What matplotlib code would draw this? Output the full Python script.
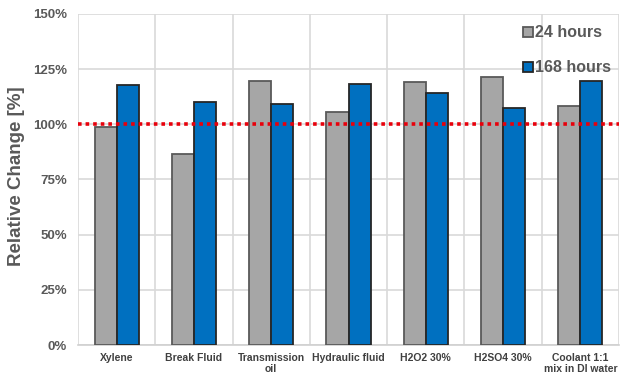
import matplotlib
matplotlib.use("Agg")
import matplotlib.pyplot as plt
from matplotlib.ticker import FixedLocator, FuncFormatter
import numpy as np

plt.rcParams['font.family'] = ['Liberation Sans', 'DejaVu Sans']

categories = ["Xylene", "Break Fluid", "Transmission\noil", "Hydraulic fluid",
              "H2O2 30%", "H2SO4 30%", "Coolant 1:1\nmix in DI water"]
hours_24 = [98.9, 86.6, 119.6, 105.5, 119.3, 121.5, 108.2]
hours_168 = [117.6, 110.1, 109.0, 118.5, 114.1, 107.2, 119.6]
series_labels = ["24 hours", "168 hours"]
y_ticks = [0, 25, 50, 75, 100, 125, 150]
reference_level = 100

fig = plt.figure(figsize=(6.26, 3.78), dpi=100)
ax = fig.add_axes([78 / 626, 1 - 345 / 378, 541 / 626, 331 / 378])

x = np.arange(len(categories))
w = 0.285
ax.bar(x - w / 2, hours_24, width=w, color="#A6A6A6", edgecolor="#595959",
       linewidth=1.3, label=series_labels[0], zorder=3)
ax.bar(x + w / 2, hours_168, width=w, color="#0070C0", edgecolor="#262626",
       linewidth=1.3, label=series_labels[1], zorder=3)

ax.axhline(reference_level, color="#E8000B", linewidth=2.6,
           linestyle=(0, (1, 1.1)), zorder=4)

ax.set_xlim(-0.5, len(categories) - 0.5)
ax.set_ylim(0, 150)
ax.yaxis.set_major_locator(FixedLocator(y_ticks))
ax.yaxis.set_major_formatter(FuncFormatter(lambda v, p: f"{v:.0f}%"))
ax.set_xticks(x)
ax.set_xticklabels(categories, fontsize=7.5, fontweight="bold", color="#404040",
                   linespacing=1.1)
ax.xaxis.set_minor_locator(FixedLocator(np.arange(-0.5, len(categories), 1.0)))

for lbl in ax.get_yticklabels():
    lbl.set_fontsize(9.5)
    lbl.set_fontweight("bold")
    lbl.set_color("#595959")

ax.tick_params(axis="both", which="both", length=0)
ax.tick_params(axis="x", pad=6)
ax.tick_params(axis="y", pad=8)
ax.grid(axis="y", which="major", color="#D9D9D9", linewidth=1.2, zorder=0)
ax.grid(axis="x", which="minor", color="#D9D9D9", linewidth=1.2, zorder=0)
for s in ["top", "right", "left"]:
    ax.spines[s].set_visible(False)
ax.spines["bottom"].set_color("#D0D0D0")
ax.spines["bottom"].set_linewidth(1.2)

ax.set_ylabel("Relative Change [%]", fontsize=13.5, fontweight="bold",
              color="#595959")
ax.yaxis.set_label_coords(-0.098, 0.51)

leg = ax.legend(loc="upper left", bbox_to_anchor=(0.808, 0.99),
                bbox_transform=ax.transAxes, frameon=False,
                prop={"size": 11.5, "weight": "bold"}, handlelength=0.6,
                handleheight=0.6, handletextpad=0.15, labelspacing=1.25,
                borderpad=0.0)
for t in leg.get_texts():
    t.set_color("#595959")

fig.savefig("out.png", dpi=100, facecolor="white")
